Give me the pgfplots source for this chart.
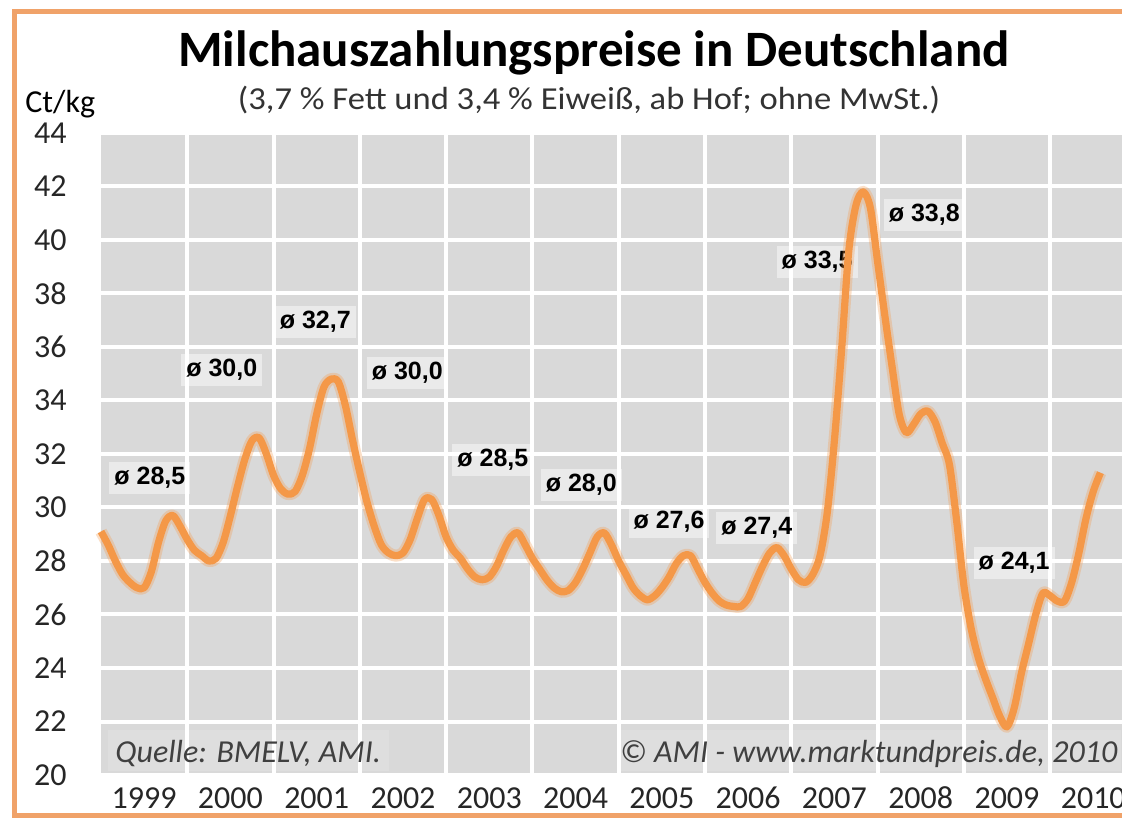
\documentclass[border=0pt]{standalone}
\usepackage{pgfplots}
\pgfplotsset{compat=1.18}
\usepackage{pgfplotstable}
\usepackage{fontspec}
\setmainfont{Carlito}
\newfontfamily\arialfont{Liberation Sans}
\definecolor{plotbg}{RGB}{217,217,217}
\definecolor{milk}{RGB}{244,152,72}
\definecolor{frameor}{RGB}{240,162,105}
\definecolor{srcgray}{RGB}{64,64,64}

\pgfplotstableread{
m v
0 29.1
1 28.6
2 28.0
3 27.5
4 27.2
5 27.0
6 27.0
7 27.6
8 28.7
9 29.5
10 29.7
11 29.3
12 28.8
13 28.4
14 28.2
15 28.0
16 28.1
17 28.7
18 29.7
19 30.8
20 31.8
21 32.5
22 32.6
23 32.0
24 31.2
25 30.7
26 30.5
27 30.6
28 31.2
29 32.2
30 33.5
31 34.5
32 34.8
33 34.7
34 33.8
35 32.5
36 31.3
37 30.2
38 29.3
39 28.6
40 28.3
41 28.2
42 28.3
43 28.8
44 29.6
45 30.3
46 30.3
47 29.7
48 28.9
49 28.4
50 28.1
51 27.7
52 27.4
53 27.3
54 27.4
55 27.8
56 28.4
57 28.9
58 29.05
59 28.6
60 28.1
61 27.7
62 27.3
63 27.0
64 26.85
65 26.9
66 27.2
67 27.7
68 28.3
69 28.9
70 29.05
71 28.6
72 28.0
73 27.5
74 27.0
75 26.7
76 26.55
77 26.7
78 27.0
79 27.4
80 27.9
81 28.2
82 28.2
83 27.7
84 27.2
85 26.8
86 26.5
87 26.35
88 26.3
89 26.3
90 26.6
91 27.2
92 27.8
93 28.3
94 28.5
95 28.2
96 27.7
97 27.3
98 27.2
99 27.5
100 28.2
101 29.8
102 32.5
103 35.9
104 39.6
105 41.3
106 41.8
107 41.2
108 39.2
109 37.2
110 35.3
111 33.5
112 32.8
113 33.1
114 33.5
115 33.6
116 33.2
117 32.4
118 31.6
119 29.5
120 27.1
121 25.5
122 24.4
123 23.6
124 22.9
125 22.2
126 21.8
127 22.5
128 23.8
129 24.9
130 26.0
131 26.8
132 26.7
133 26.5
134 26.5
135 27.2
136 28.3
137 29.6
138 30.6
139 31.3
}\milkdata

\begin{document}
\begin{tikzpicture}[x=1pt,y=1pt]
\useasboundingbox (0,0) rectangle (561,409);
\clip (0,0) rectangle (561,409);
\fill[white] (0,0) rectangle (561,409);
\draw[frameor, line width=2.5pt] (562,403) -- (7,403) -- (7,1.5) -- (562,1.5);
\node[anchor=base, inner sep=0pt] at (297,375.5) {\fontsize{25.5}{30}\selectfont\bfseries Milchauszahlungspreise in Deutschland};
\node[anchor=base, inner sep=0pt, text=black!80] at (294.5,354) {\scalebox{1.08}[1]{\fontsize{16}{18}\selectfont (3,7 \% Fett und 3,4 \% Eiweiß, ab Hof; ohne MwSt.)}};
\node[anchor=base west, inner sep=0pt] at (12.5,352.5) {\fontsize{16}{18}\selectfont Ct/kg};
\begin{axis}[
  at={(50.5pt,21.5pt)}, anchor=south west,
  scale only axis, width=510.5pt, height=321pt,
  xmin=0, xmax=142, ymin=20, ymax=44,
  axis background/.style={fill=plotbg},
  axis line style={draw=none},
  major tick length=0pt,
  ytick={20,22,...,44},
  xtick={6,18,...,138},
  xticklabels={1999,2000,2001,2002,2003,\raisebox{-2pt}{2004},2005,2006,2007,2008,2009,2010},
  extra x ticks={12,24,...,132},
  extra x tick labels={},
  extra x tick style={xmajorgrids=true},
  ymajorgrids=true,
  major grid style={white, line width=2pt},
  /pgf/number format/assume math mode=true,
  yticklabel style={anchor=east, inner sep=0pt, xshift=-17pt, font=\fontsize{16}{18}\selectfont, text=black!85},
  xticklabel style={anchor=center, inner sep=0pt, yshift=-11.5pt, font=\fontsize{16}{18}\selectfont, text=black!85},
  clip=false,
]
\fill[white, opacity=0.15] (axis cs:1,20.15) rectangle (axis cs:40,21.7);
\fill[white, opacity=0.15] (axis cs:72,20.15) rectangle (axis cs:141.8,21.7);
\node[anchor=base west, inner sep=0pt, text=srcgray] at (axis cs:1.95,20.45) {\fontsize{16}{18}\selectfont\itshape Quelle: BMELV, AMI.};
\node[anchor=base east, inner sep=0pt, text=srcgray] at (axis cs:141.4,20.45) {\fontsize{16}{18}\selectfont\itshape © AMI - www.marktundpreis.de, 2010};
\tikzset{avg/.style={fill=white, fill opacity=0.45, text opacity=1, inner sep=2.5pt, font=\arialfont\bfseries\fontsize{12.5}{14}\selectfont}}
\node[avg] at (axis cs:6.8,31.10) {ø 28,5};
\node[avg] at (axis cs:16.8,35.14) {ø 30,0};
\node[avg] at (axis cs:29.8,36.93) {ø 32,7};
\node[avg] at (axis cs:42.6,35.03) {ø 30,0};
\node[avg] at (axis cs:54.5,31.78) {ø 28,5};
\node[avg] at (axis cs:66.8,30.84) {ø 28,0};
\node[avg] at (axis cs:79.0,29.46) {ø 27,6};
\node[avg] at (axis cs:91.2,29.23) {ø 27,4};
\node[avg] at (axis cs:99.6,39.18) {ø 33,5};
\node[avg] at (axis cs:114.5,40.93) {ø 33,8};
\node[avg] at (axis cs:127.0,27.93) {ø 24,1};
\addplot[milk, opacity=0.3, line width=6pt, smooth, line join=round] table[x=m,y=v] {\milkdata};
\addplot[milk, line width=3.6pt, smooth, line join=round] table[x=m,y=v] {\milkdata};
\end{axis}
\end{tikzpicture}
\end{document}
